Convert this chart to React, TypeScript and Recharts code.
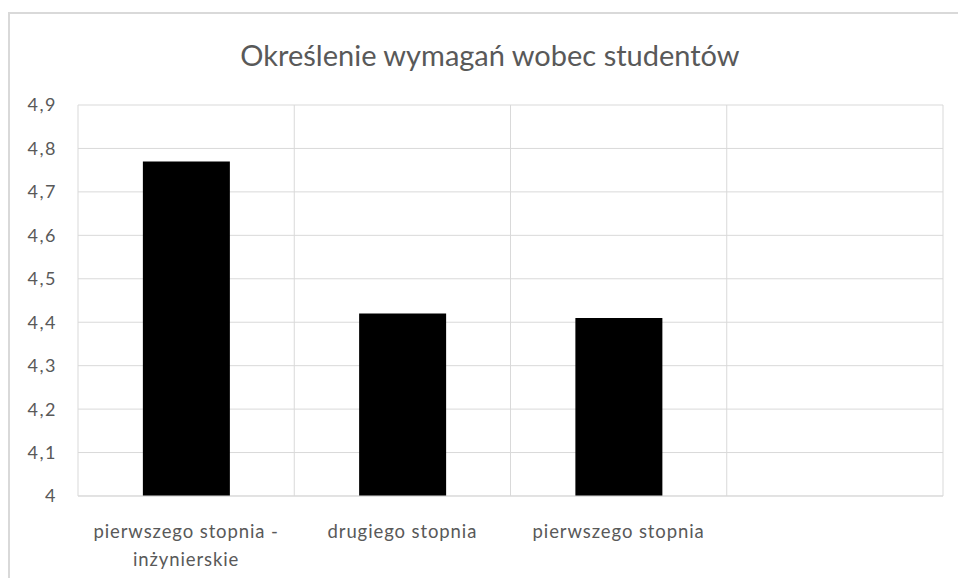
import React from "react";
import { BarChart, Bar, XAxis, YAxis, CartesianGrid } from "recharts";

const categories = [
  "pierwszego stopnia -\ninżynierskie",
  "drugiego stopnia",
  "pierwszego stopnia",
  "",
];
const values: (number | null)[] = [4.77, 4.42, 4.41, null];
const yTicks = [4, 4.1, 4.2, 4.3, 4.4, 4.5, 4.6, 4.7, 4.8, 4.9];
const title = "Określenie wymagań wobec studentów";

const FONT = "Lato, 'Open Sans', sans-serif";
const TEXT = "#595959";
const GRID = "#d9d9d9";

const data = categories.map((name, i) => ({ name, value: values[i] }));

function CategoryTick({ x, y, payload }: any) {
  const lines = String(payload.value).split("\n");
  return (
    <text
      x={x}
      y={y}
      textAnchor="middle"
      fill={TEXT}
      fontSize={18.5}
      fontFamily={FONT}
      letterSpacing={0.9}
    >
      {lines.map((l, i) => (
        <tspan key={i} x={x} dy={i === 0 ? 34 : 28}>
          {l}
        </tspan>
      ))}
    </text>
  );
}

export default function App() {
  return (
    <div
      style={{
        position: "absolute",
        left: 0,
        top: 0,
        width: 958,
        height: 578,
        background: "#fff",
        overflow: "hidden",
      }}
    >
      <div
        style={{
          position: "absolute",
          left: 8,
          top: 12,
          width: 960,
          height: 580,
          borderTop: `2px solid ${GRID}`,
          borderLeft: `2px solid ${GRID}`,
        }}
      />
      <div
        style={{
          position: "absolute",
          left: 0,
          width: 980,
          top: 40,
          textAlign: "center",
          fontFamily: FONT,
          fontSize: 29,
          lineHeight: "29px",
          color: TEXT,
        }}
      >
        {title}
      </div>
      <div style={{ position: "absolute", left: 0, top: 0 }}>
        <BarChart
          width={958}
          height={578}
          data={data}
          margin={{ top: 105, right: 15, bottom: 32, left: 0 }}
          barCategoryGap="30%"
        >
          <CartesianGrid
            stroke={GRID}
            strokeWidth={1}
            verticalCoordinatesGenerator={({ offset }: any) =>
              categories.map((_, i) => offset.left + (i * offset.width) / categories.length)
                .concat([offset.left + offset.width])
            }
          />
          <XAxis
            dataKey="name"
            height={50}
            interval={0}
            tickLine={false}
            axisLine={{ stroke: GRID }}
            tick={<CategoryTick />}
          />
          <YAxis
            width={78}
            domain={[4, 4.9]}
            ticks={yTicks}
            interval={0}
            axisLine={false}
            tickLine={false}
            tickSize={0}
            tickMargin={21}
            tickFormatter={(v: number) => String(Math.round(v * 10) / 10).replace(".", ",")}
            tick={{ fill: TEXT, fontSize: 18, fontFamily: FONT, letterSpacing: 1.5 }}
          />
          <Bar dataKey="value" fill="#000" isAnimationActive={false} />
        </BarChart>
      </div>
    </div>
  );
}
